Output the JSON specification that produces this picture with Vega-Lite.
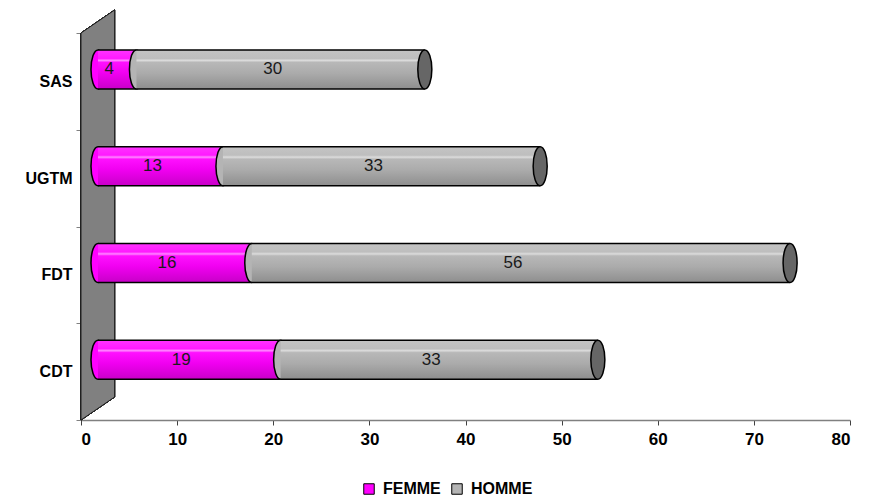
{
  "$schema": "https://vega.github.io/schema/vega-lite/v6.json",
  "width": 769,
  "height": 387,
  "autosize": {"type": "none"},
  "padding": {"left": 81, "top": 33, "right": 34, "bottom": 82},
  "background": "white",
  "config": {"font": "Liberation Sans", "view": {"stroke": null}},
  "data": {
    "values": [
      {"org": "SAS", "sexe": "FEMME", "value": 4},
      {"org": "SAS", "sexe": "HOMME", "value": 30},
      {"org": "UGTM", "sexe": "FEMME", "value": 13},
      {"org": "UGTM", "sexe": "HOMME", "value": 33},
      {"org": "FDT", "sexe": "FEMME", "value": 16},
      {"org": "FDT", "sexe": "HOMME", "value": 56},
      {"org": "CDT", "sexe": "FEMME", "value": 19},
      {"org": "CDT", "sexe": "HOMME", "value": 33}
    ]
  },
  "transform": [
    {"stack": "value", "groupby": ["org"], "sort": [{"field": "sexe", "order": "ascending"}], "as": ["x0", "x1"]}
  ],
  "encoding": {
    "y": {
      "field": "org", "type": "nominal",
      "sort": ["SAS", "UGTM", "FDT", "CDT"],
      "scale": {"paddingInner": 0, "paddingOuter": 0},
      "axis": {
        "title": null, "labelFontWeight": "bold", "labelFontSize": 16, "labelColor": "black",
        "tickBand": "extent", "tickSize": 5, "tickColor": "#808080", "domainColor": "#808080",
        "labelPadding": 4
      }
    }
  },
  "layer": [
    {
      "mark": {"type": "point", "filled": true, "fill": "#808080", "stroke": "#202020", "strokeWidth": 1, "opacity": 1, "size": 4,
        "shape": "M0,0 L0,-387 L33.6,-410 L33.6,-23 Z"},
      "encoding": {
        "x": {"datum": 0, "type": "quantitative"},
        "y": {"datum": "CDT", "bandPosition": 1}
      }
    },
    {
      "transform": [{"filter": "datum.sexe === 'FEMME'"}],
      "mark": {"type": "point", "filled": true, "stroke": "black", "strokeWidth": 1.5, "opacity": 1, "size": 1521,
        "xOffset": 17, "yOffset": -12, "shape": "M0,-1 A0.36,1 0 1,1 0,1 A0.36,1 0 1,1 0,-1 Z"},
      "encoding": {
        "x": {
          "field": "x0", "type": "quantitative",
          "scale": {"domain": [0, 80], "nice": false},
          "axis": {
            "title": null, "values": [0, 10, 20, 30, 40, 50, 60, 70, 80],
            "labelFontWeight": "bold", "labelFontSize": 17, "labelColor": "black",
            "tickSize": 5, "tickColor": "#404040", "domainColor": "#808080", "domainWidth": 1.5,
            "grid": false, "labelPadding": 6
          }
        },
        "color": {
          "field": "sexe", "type": "nominal",
          "scale": {"domain": ["FEMME", "HOMME"], "range": ["#FF00FF", "#B4B4B4"]},
          "legend": {
            "title": null, "orient": "none", "direction": "horizontal",
            "legendX": 280, "legendY": 448,
            "symbolType": "square", "symbolSize": 110, "symbolStrokeColor": "black", "symbolStrokeWidth": 1,
            "labelFontWeight": "bold", "labelFontSize": 16, "labelColor": "black",
            "columnPadding": 8, "labelOffset": 6
          }
        }
      }
    },
    {
      "transform": [{"filter": "datum.sexe === 'FEMME'"}],
      "mark": {
        "type": "bar", "height": 39, "xOffset": 17, "x2Offset": 17, "yOffset": -12,
        "fill": {
          "gradient": "linear", "x1": 0, "y1": 0, "x2": 0, "y2": 1,
          "stops": [
            {"offset": 0, "color": "#FF33FF"},
            {"offset": 0.22, "color": "#FF1AFF"},
            {"offset": 0.27, "color": "#FF88FF"},
            {"offset": 0.32, "color": "#FF10FF"},
            {"offset": 0.6, "color": "#F000F0"},
            {"offset": 1, "color": "#C800C8"}
          ]
        }
      },
      "encoding": {"x": {"field": "x0", "type": "quantitative"}, "x2": {"field": "x1"}}
    },
    {
      "transform": [{"filter": "datum.sexe === 'HOMME'"}],
      "mark": {"type": "point", "filled": true, "stroke": "black", "strokeWidth": 1.5, "opacity": 1, "size": 1521,
        "xOffset": 17, "yOffset": -12, "shape": "M0,-1 A0.36,1 0 1,1 0,1 A0.36,1 0 1,1 0,-1 Z"},
      "encoding": {
        "x": {"field": "x0", "type": "quantitative"},
        "color": {"field": "sexe", "type": "nominal"}
      }
    },
    {
      "transform": [{"filter": "datum.sexe === 'HOMME'"}],
      "mark": {
        "type": "bar", "height": 39, "xOffset": 17, "x2Offset": 17, "yOffset": -12,
        "fill": {
          "gradient": "linear", "x1": 0, "y1": 0, "x2": 0, "y2": 1,
          "stops": [
            {"offset": 0, "color": "#C4C4C4"},
            {"offset": 0.22, "color": "#BEBEBE"},
            {"offset": 0.27, "color": "#DCDCDC"},
            {"offset": 0.32, "color": "#B8B8B8"},
            {"offset": 0.6, "color": "#ABABAB"},
            {"offset": 1, "color": "#8E8E8E"}
          ]
        }
      },
      "encoding": {"x": {"field": "x0", "type": "quantitative"}, "x2": {"field": "x1"}}
    },
    {
      "mark": {"type": "rule", "color": "black", "strokeWidth": 1.5, "xOffset": 17, "x2Offset": 17, "yOffset": -31.5},
      "encoding": {"x": {"field": "x0", "type": "quantitative"}, "x2": {"field": "x1"}}
    },
    {
      "mark": {"type": "rule", "color": "black", "strokeWidth": 1.5, "xOffset": 17, "x2Offset": 17, "yOffset": 7.5},
      "encoding": {"x": {"field": "x0", "type": "quantitative"}, "x2": {"field": "x1"}}
    },
    {
      "transform": [{"filter": "datum.sexe === 'HOMME'"}],
      "mark": {
        "type": "point", "filled": true, "fill": "#666666", "stroke": "black", "strokeWidth": 1.5,
        "opacity": 1, "size": 1521, "xOffset": 17, "yOffset": -12,
        "shape": "M0,-1 A0.36,1 0 1,1 0,1 A0.36,1 0 1,1 0,-1 Z"
      },
      "encoding": {"x": {"field": "x1", "type": "quantitative"}}
    },
    {
      "mark": {"type": "text", "fontSize": 17, "color": "#1a1a1a", "xOffset": 9, "yOffset": -12, "align": "center", "baseline": "middle"},
      "encoding": {
        "x": {"field": "value", "type": "quantitative", "stack": "zero", "bandPosition": 0.5},
        "order": {"field": "sexe", "sort": "ascending"},
        "text": {"field": "value", "type": "quantitative"}
      }
    }
  ]
}
